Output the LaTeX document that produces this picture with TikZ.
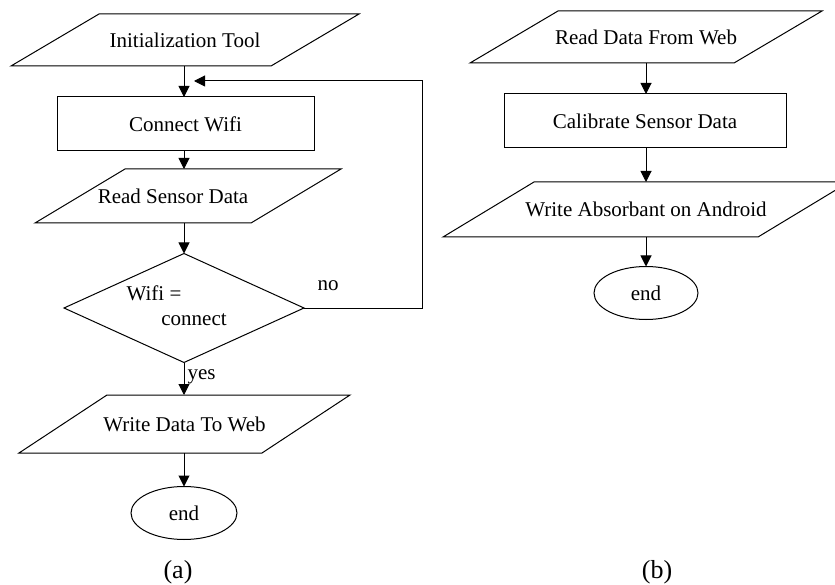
\documentclass[tikz,border=0pt]{standalone}
\usepackage{fontspec}
\setmainfont{Liberation Serif}
\usetikzlibrary{shapes.geometric,arrows.meta}

\tikzset{
  outline/.style={draw=black, line width=1pt},
  body/.style={font=\fontsize{21}{24}\selectfont},
  procbox/.style={outline, body, rectangle, inner sep=0pt, outer sep=0pt},
  termbox/.style={outline, body, ellipse, inner sep=0pt, outer sep=0pt},
  decbox/.style={outline, diamond, inner sep=0pt, outer sep=0pt},
  ioframe/.style={rectangle, body, inner sep=0pt, outer sep=0pt},
  txt/.style={body, inner sep=0pt},
  caption/.style={font=\fontsize{26}{30}\selectfont, inner sep=0pt},
  flow/.style={draw=black, line width=1pt, -{Triangle[length=11pt,width=11pt]}},
}

% input/output box: an invisible frame node whose corners carry a slanted outline
% #1 name, #2 centre x, #3 centre y, #4 width, #5 height, #6 slant, #7 text
\newcommand{\iobox}[7]{%
  \node[ioframe, minimum width=#4pt, minimum height=#5pt] (#1) at (#2,#3) {#7};
  \draw[outline] ([xshift=#6pt]#1.north west) -- (#1.north east)
    -- ([xshift=-#6pt]#1.south east) -- (#1.south west) -- cycle;
}

\begin{document}
\begin{tikzpicture}[x=1pt, y=-1pt]
\useasboundingbox (0,0) rectangle (835,585);
\clip (0,0) rectangle (835,585);

% column axes
\coordinate (colA) at (184,0);
\coordinate (colB) at (646,0);

% ---------- flow (a) ----------
\iobox{init}{185}{40}{348}{52}{88}{Initialization Tool}
\node[procbox, minimum width=257pt, minimum height=54pt] (wifi) at (185.5,124) {Connect Wifi};
\iobox{sense}{188}{196}{306}{54}{90}{}
\node[txt] (sensetext) at (173,196) {Read Sensor Data};
\node[decbox, minimum width=240pt, minimum height=109pt] (check) at (184,308) {};
\node[txt] (checkA) at (154,293) {Wifi =};
\node[txt] (checkB) at (194,320) {connect};
\iobox{upload}{184.5}{424}{331}{58}{88}{Write Data To Web}
\node[termbox, minimum width=106pt, minimum height=53pt] (endA) at (184,513) {end};

\coordinate (turn) at (422,81);
\coordinate (rejoin) at (194,81);

\draw[flow] (init.south -| colA) -- (wifi.north -| colA);
\draw[flow] (wifi.south -| colA) -- (sense.north -| colA);
\draw[flow] (sense.south -| colA) -- (check.north);
\draw[flow] (check.south) -- (upload.north -| colA)
  node[txt, pos=0.45, right=3pt] (yes) {yes};
\draw[flow] (upload.south -| colA) -- (endA.north);
\draw[flow] (check.east) -| (turn) -- (rejoin);
\node[txt] (no) at (328,286) {no};

\node[caption] (capA) at (178,572) {(a)};

% ---------- flow (b) ----------
\iobox{fetch}{646}{37}{352}{52}{88}{Read Data From Web}
\node[procbox, minimum width=282pt, minimum height=54pt] (calib) at (645,121) {Calibrate Sensor Data};
\iobox{show}{646}{209.5}{406}{55}{91}{Write Absorbant on Android}
\node[termbox, minimum width=104pt, minimum height=53pt] (endB) at (646,293) {end};

\draw[flow] (fetch.south -| colB) -- (calib.north -| colB);
\draw[flow] (calib.south -| colB) -- (show.north -| colB);
\draw[flow] (show.south -| colB) -- (endB.north);

\node[caption] (capB) at (657,572) {(b)};
\end{tikzpicture}
\end{document}
